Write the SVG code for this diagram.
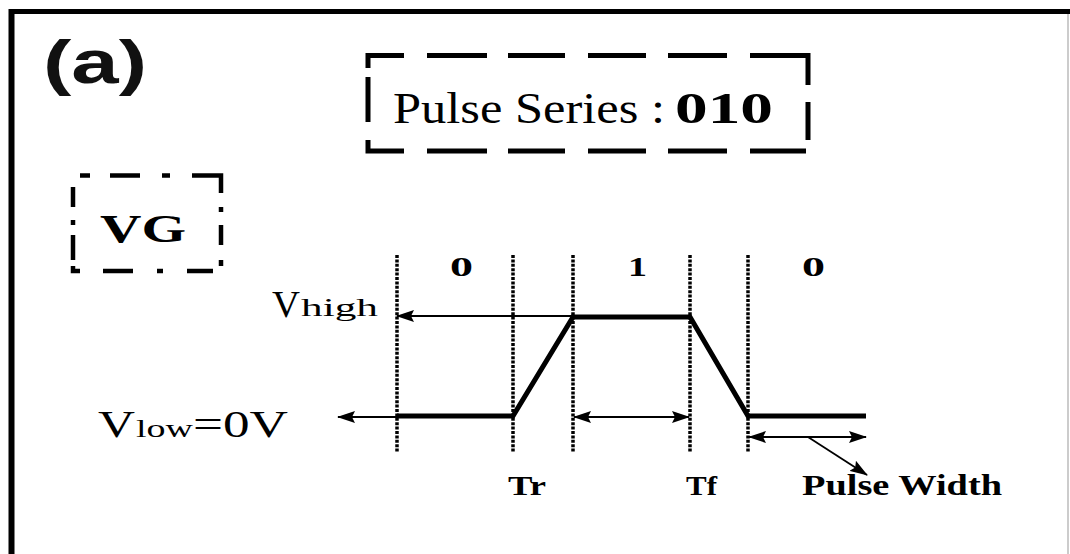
<svg xmlns="http://www.w3.org/2000/svg" width="1070" height="554" viewBox="0 0 1070 554">
<style>
.serif{font-family:"Liberation Serif","Times New Roman",serif;fill:#000}
.b{font-weight:bold}
.box{fill:none;stroke:#000;stroke-width:5;stroke-linecap:butt}
.box2{fill:none;stroke:#000;stroke-width:4.5;stroke-linecap:butt}
.dot{stroke:#000;stroke-width:3.5;stroke-dasharray:3 1.4;fill:none}
.wave{fill:none;stroke:#000;stroke-width:5;stroke-linejoin:miter}
.thin{fill:none;stroke:#000;stroke-width:1.8}
</style>
<defs>
<marker id="ah" markerUnits="userSpaceOnUse" markerWidth="18" markerHeight="12" refX="17" refY="6" orient="auto-start-reverse">
<path d="M0,0 L18,6 L0,12 L3,6 Z" fill="#000"/>
</marker>
</defs>
<rect width="1070" height="554" fill="#fff"/>
<g id="frame">
<line x1="11.5" y1="9" x2="11.5" y2="554" stroke="#000" stroke-width="6"/>
<line x1="9" y1="11.5" x2="1070" y2="11.5" stroke="#000" stroke-width="5"/>
<line x1="1068" y1="14" x2="1068" y2="554" stroke="#ccc" stroke-width="2"/>
</g>
<g id="label-a">
<text x="43" y="83" font-family="Liberation Sans, Arial, sans-serif" font-weight="bold" font-size="62" fill="#111" textLength="104" lengthAdjust="spacingAndGlyphs">(a)</text>
</g>
<g id="pulse-series">
<path class="box" d="M368,68 V55.5 H404 M427,55.5 H487 M508,55.5 H565 M588,55.5 H646 M668,55.5 H727 M750,55.5 H808 V85 M808,102 V140 M368,77 V122 M368,140 V151 H404 M427,151 H487 M508,151 H565 M588,151 H646 M668,151 H727 M750,151 H806"/>
<text class="serif" x="393" y="123" font-size="44" textLength="272" lengthAdjust="spacingAndGlyphs">Pulse Series :</text>
<text class="serif b" x="675" y="123" font-size="44" textLength="98" lengthAdjust="spacingAndGlyphs">010</text>
</g>
<g id="vg">
<path class="box2" d="M80,175.5 H90 M110,175.5 H140 M162,175.5 H170 M192,175.5 H221 V193 M221,207 V212 M221,225 V245 M221,260 V266 M73,187 V207 M73,220 V225 M73,235 V260 M73,266 V271 H80 M103,271 H133 M157,271 H163 M187,271 H213"/>
<text class="serif b" x="100" y="242" font-size="40" textLength="86" lengthAdjust="spacingAndGlyphs">VG</text>
</g>
<g id="bit-labels">
<text class="serif b" x="450" y="276" font-size="27" textLength="23" lengthAdjust="spacingAndGlyphs">0</text>
<text class="serif b" x="628" y="276" font-size="27" textLength="19" lengthAdjust="spacingAndGlyphs">1</text>
<text class="serif b" x="802" y="276" font-size="27" textLength="23" lengthAdjust="spacingAndGlyphs">0</text>
</g>
<g id="v-high">
<text class="serif" x="272" y="317" font-size="38" textLength="28" lengthAdjust="spacingAndGlyphs">V</text>
<text class="serif" x="301" y="316" font-size="26" textLength="77" lengthAdjust="spacingAndGlyphs">high</text>
</g>
<g id="v-low">
<text class="serif" x="98" y="437" font-size="37" textLength="37" lengthAdjust="spacingAndGlyphs">V</text>
<text class="serif" x="136" y="437" font-size="25" textLength="57" lengthAdjust="spacingAndGlyphs">low</text>
<text class="serif" x="193" y="437" font-size="37" textLength="95" lengthAdjust="spacingAndGlyphs">=0V</text>
</g>
<g id="time-labels">
<text class="serif b" x="508" y="495" font-size="27" textLength="38" lengthAdjust="spacingAndGlyphs">Tr</text>
<text class="serif b" x="686" y="495" font-size="27" textLength="31" lengthAdjust="spacingAndGlyphs">Tf</text>
<text class="serif b" x="802" y="495" font-size="29" textLength="200" lengthAdjust="spacingAndGlyphs">Pulse Width</text>
</g>
<g id="grid">
<line class="dot" x1="397" y1="255" x2="397" y2="452"/>
<line class="dot" x1="513" y1="255" x2="513" y2="452"/>
<line class="dot" x1="573" y1="255" x2="573" y2="452"/>
<line class="dot" x1="690" y1="255" x2="690" y2="452"/>
<line class="dot" x1="748" y1="255" x2="748" y2="452"/>
</g>
<g id="waveform">
<polyline class="wave" points="397,416 513,416 573,317 690,317 748,416 866,416"/>
</g>
<g id="connectors">
<line class="thin" x1="573" y1="316" x2="397" y2="316" marker-end="url(#ah)"/>
<line class="thin" x1="397" y1="417" x2="338" y2="417" marker-end="url(#ah)"/>
<line class="thin" x1="574" y1="417" x2="689" y2="417" marker-start="url(#ah)" marker-end="url(#ah)"/>
<line class="thin" x1="749" y1="437" x2="866" y2="437" marker-start="url(#ah)" marker-end="url(#ah)"/>
<line class="thin" x1="808" y1="437" x2="867" y2="475" marker-end="url(#ah)"/>
</g>
</svg>
